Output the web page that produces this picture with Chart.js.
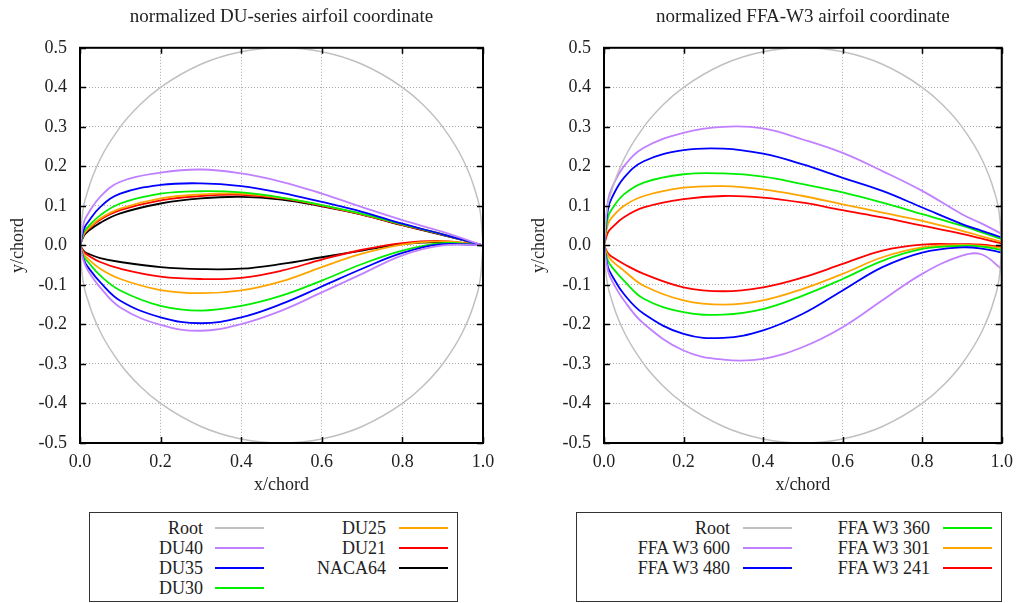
<!DOCTYPE html>
<html>
<head>
<meta charset="utf-8">
<script src="https://cdn.jsdelivr.net/npm/chart.js@4.4.1/dist/chart.umd.min.js"></script>
<style>
  body { margin: 0; background: #fff; font-family: "Liberation Serif", serif; }
  #page { position: relative; width: 1021px; height: 603px; overflow: hidden; }
  .plot { position: absolute; top: 0; height: 500px; }
  .legend { position: absolute; top: 512px; height: 88px; border: 1px solid #333; background: #fff; }
  .lbl { position: absolute; height: 20px; line-height: 20px; font-size: 18px; color: #222; text-align: right; white-space: nowrap; }
  .swatch { position: absolute; height: 2px; }
</style>
</head>
<body>
<div id="page">
  <div class="plot" style="left:0;width:510px"><canvas id="du"></canvas></div>
  <div class="plot" style="left:510px;width:511px"><canvas id="ffa"></canvas></div>
  <div class="legend" id="duLegend" style="left:89px;width:367px"></div>
  <div class="legend" id="ffaLegend" style="left:576px;width:424px"></div>
</div>
<script>
// root cylinder (circle of diameter 1 chord)
const ROOT_X = [0, 0.005, 0.02, 0.05, 0.1, 0.15, 0.2, 0.3, 0.4, 0.5, 0.6, 0.7, 0.8, 0.85, 0.9, 0.95, 0.98, 0.995, 1];
const ROOT_UP = [0, 0.0705, 0.14, 0.2179, 0.3, 0.3571, 0.4, 0.4583, 0.4899, 0.5, 0.4899, 0.4583, 0.4, 0.3571, 0.3, 0.2179, 0.14, 0.0705, 0];
const ROOT_LO = [0, -0.0705, -0.14, -0.2179, -0.3, -0.3571, -0.4, -0.4583, -0.4899, -0.5, -0.4899, -0.4583, -0.4, -0.3571, -0.3, -0.2179, -0.14, -0.0705, 0];

// DU series, x/chord stations
const DU_X = [0, 0.01, 0.02, 0.05, 0.1, 0.2, 0.3, 0.4, 0.5, 0.6, 0.7, 0.8, 0.9, 1.0];
const DU40_UP = [0, 0.06, 0.08, 0.123, 0.161, 0.184, 0.192, 0.182, 0.161, 0.131, 0.097, 0.064, 0.034, 0];
const DU40_LO = [0, -0.042, -0.064, -0.106, -0.157, -0.201, -0.216, -0.199, -0.165, -0.119, -0.072, -0.025, 0.0, 0];
const DU35_UP = [0, 0.042, 0.059, 0.097, 0.131, 0.153, 0.157, 0.15, 0.133, 0.11, 0.085, 0.055, 0.028, 0];
const DU35_LO = [0, -0.038, -0.055, -0.093, -0.14, -0.182, -0.197, -0.182, -0.148, -0.104, -0.059, -0.019, 0.003, 0];
const DU30_UP = [0, 0.034, 0.047, 0.076, 0.106, 0.131, 0.137, 0.134, 0.121, 0.102, 0.08, 0.053, 0.028, 0];
const DU30_LO = [0, -0.03, -0.042, -0.076, -0.114, -0.153, -0.165, -0.153, -0.127, -0.089, -0.047, -0.013, 0.006, 0];
const DU25_UP = [0, 0.03, 0.042, 0.068, 0.093, 0.119, 0.129, 0.131, 0.12, 0.102, 0.079, 0.053, 0.028, 0];
const DU25_LO = [0, -0.023, -0.034, -0.059, -0.085, -0.113, -0.121, -0.114, -0.091, -0.055, -0.021, 0.002, 0.01, 0];
const DU21_UP = [0, 0.028, 0.04, 0.065, 0.089, 0.114, 0.125, 0.128, 0.119, 0.1, 0.078, 0.051, 0.027, 0];
const DU21_LO = [0, -0.017, -0.025, -0.042, -0.059, -0.079, -0.085, -0.082, -0.064, -0.036, -0.011, 0.006, 0.011, 0];
const NACA64_UP = [0, 0.025, 0.036, 0.057, 0.081, 0.106, 0.119, 0.123, 0.116, 0.099, 0.078, 0.051, 0.026, 0];
const NACA64_LO = [0, -0.015, -0.021, -0.032, -0.042, -0.055, -0.06, -0.059, -0.047, -0.03, -0.013, 0.003, 0.008, 0];

// FFA-W3 series
const FFA_X = [0, 0.01, 0.02, 0.05, 0.1, 0.2, 0.3, 0.4, 0.5, 0.6, 0.7, 0.8, 0.9, 0.95, 1.0];
const W600_UP = [0, 0.113, 0.146, 0.2, 0.247, 0.285, 0.3, 0.296, 0.268, 0.234, 0.188, 0.138, 0.079, 0.055, 0.029];
const W600_LO = [0, -0.064, -0.089, -0.139, -0.198, -0.266, -0.289, -0.287, -0.257, -0.207, -0.139, -0.072, -0.026, -0.023, -0.06];
const W480_UP = [0, 0.092, 0.121, 0.171, 0.213, 0.241, 0.245, 0.232, 0.205, 0.171, 0.138, 0.096, 0.054, 0.037, 0.02];
const W480_LO = [0, -0.055, -0.076, -0.123, -0.173, -0.224, -0.234, -0.215, -0.173, -0.114, -0.055, -0.018, -0.005, -0.008, -0.018];
const W360_UP = [0, 0.071, 0.092, 0.129, 0.159, 0.18, 0.182, 0.174, 0.155, 0.134, 0.108, 0.079, 0.05, 0.033, 0.016];
const W360_LO = [0, -0.039, -0.055, -0.089, -0.135, -0.169, -0.175, -0.161, -0.127, -0.085, -0.039, -0.009, -0.001, -0.003, -0.012];
const W301_UP = [0, 0.054, 0.071, 0.1, 0.125, 0.146, 0.15, 0.142, 0.125, 0.104, 0.083, 0.062, 0.037, 0.023, 0.009];
const W301_LO = [0, -0.026, -0.039, -0.064, -0.102, -0.139, -0.15, -0.139, -0.11, -0.072, -0.03, -0.005, 0.001, -0.001, -0.007];
const W241_UP = [0, 0.033, 0.045, 0.071, 0.096, 0.117, 0.125, 0.121, 0.108, 0.089, 0.071, 0.05, 0.029, 0.017, 0.005];
const W241_LO = [0, -0.02, -0.029, -0.047, -0.072, -0.106, -0.116, -0.106, -0.081, -0.047, -0.013, 0.002, 0.003, 0.002, -0.005];

const DU_NAMES = ['Root', 'DU40', 'DU35', 'DU30', 'DU25', 'DU21', 'NACA64'];
const FFA_NAMES = ['Root', 'FFA W3 600', 'FFA W3 480', 'FFA W3 360', 'FFA W3 301', 'FFA W3 241'];
const DU_COLORS = ['#c0c0c0', '#c080ff', '#0000ff', '#00ee00', '#ffa500', '#ff0000', '#000000'];
const FFA_COLORS = ['#c0c0c0', '#c080ff', '#0000ff', '#00ee00', '#ffa500', '#ff0000'];

const Y_TICKS = [-0.5, -0.4, -0.3, -0.2, -0.1, 0, 0.1, 0.2, 0.3, 0.4, 0.5];
const X_TICKS = [0, 0.2, 0.4, 0.6, 0.8, 1.0];

const SERIF = '"Liberation Serif", "Times New Roman", serif';
Chart.defaults.font.family = SERIF;
Chart.defaults.font.size = 18;
Chart.defaults.color = '#222';

const pts = (xs, ys) => xs.map((x, i) => ({ x, y: ys[i] }));
const fmt = v => (Math.abs(v) < 1e-9 ? '0.0' : Number(v).toFixed(1));

// gnuplot style frame with inward ticks on all four sides
const frame = {
  id: 'frame',
  afterDatasetsDraw(chart) {
    const { ctx, chartArea: a, scales: { x, y } } = chart;
    ctx.save();
    ctx.strokeStyle = '#000';
    ctx.lineWidth = 1.5;
    ctx.beginPath();
    X_TICKS.forEach(v => {
      const px = Math.round(x.getPixelForValue(v)) + 0.5;
      ctx.moveTo(px, a.bottom); ctx.lineTo(px, a.bottom - 6);
      ctx.moveTo(px, a.top); ctx.lineTo(px, a.top + 6);
    });
    Y_TICKS.forEach(v => {
      const py = Math.round(y.getPixelForValue(v)) + 0.5;
      ctx.moveTo(a.left, py); ctx.lineTo(a.left + 6, py);
      ctx.moveTo(a.right, py); ctx.lineTo(a.right - 6, py);
    });
    ctx.stroke();
    ctx.lineWidth = 2;
    ctx.strokeRect(a.left, a.top, a.right - a.left, a.bottom - a.top);
    ctx.restore();
  },
};

const makeChart = (id, title, datasets, yWidth, yTitlePad, rightPad) => new Chart(document.getElementById(id), {
  type: 'scatter',
  data: { datasets },
  options: {
    responsive: true,
    maintainAspectRatio: false,
    animation: false,
    events: [],
    layout: { padding: { left: 0, right: rightPad, top: 0, bottom: 0 } },
    plugins: {
      legend: { display: false },
      tooltip: { enabled: false },
      title: {
        display: true, text: title, color: '#222', fullSize: false,
        font: { family: SERIF, size: 19, weight: 'normal' },
        padding: { top: 6, bottom: 19 },
      },
    },
    scales: {
      x: {
        type: 'linear', min: 0, max: 1,
        afterFit: s => { s.height = 57; },
        afterBuildTicks: s => { s.ticks = X_TICKS.map(v => ({ value: v })); },
        ticks: { padding: 8, callback: fmt, autoSkip: false, maxRotation: 0, font: { family: SERIF, size: 18 } },
        grid: { color: '#a8a8a8', drawTicks: false },
        border: { display: false, dash: [1, 2] },
        title: { display: true, text: 'x/chord', font: { family: SERIF, size: 18 }, padding: { top: 0, bottom: 4 } },
      },
      y: {
        type: 'linear', min: -0.5, max: 0.5,
        afterFit: s => { s.width = yWidth; },
        afterBuildTicks: s => { s.ticks = Y_TICKS.map(v => ({ value: v })); },
        ticks: { padding: 13, callback: fmt, autoSkip: false, font: { family: SERIF, size: 18 } },
        grid: { color: '#a8a8a8', drawTicks: false },
        border: { display: false, dash: [1, 2] },
        title: { display: true, text: 'y/chord', font: { family: SERIF, size: 18 }, padding: { top: yTitlePad, bottom: 0 } },
      },
    },
  },
  plugins: [frame],
});

// each airfoil = upper + lower surface curve; the root circle uses monotone
// interpolation, the airfoils a plain spline
const surfaces = (names, colors, xs, ups, los) => names.flatMap((name, i) => {
  const base = {
    label: name, showLine: true, borderColor: colors[i], backgroundColor: colors[i],
    borderWidth: i === 0 ? 1.5 : 1.8, pointRadius: 0, fill: false,
  };
  if (i === 0) base.cubicInterpolationMode = 'monotone';
  else base.tension = 0.4;
  return [
    { ...base, data: pts(xs[i], ups[i]) },
    { ...base, data: pts(xs[i], los[i]) },
  ];
});

makeChart('du', 'normalized DU-series airfoil coordinate',
  surfaces(DU_NAMES, DU_COLORS,
    [ROOT_X, DU_X, DU_X, DU_X, DU_X, DU_X, DU_X],
    [ROOT_UP, DU40_UP, DU35_UP, DU30_UP, DU25_UP, DU21_UP, NACA64_UP],
    [ROOT_LO, DU40_LO, DU35_LO, DU30_LO, DU25_LO, DU21_LO, NACA64_LO]),
  80, 7, 27);
makeChart('ffa', 'normalized FFA-W3 airfoil coordinate',
  surfaces(FFA_NAMES, FFA_COLORS,
    [ROOT_X, FFA_X, FFA_X, FFA_X, FFA_X, FFA_X],
    [ROOT_UP, W600_UP, W480_UP, W360_UP, W301_UP, W241_UP],
    [ROOT_LO, W600_LO, W480_LO, W360_LO, W301_LO, W241_LO]),
  94, 18, 14);

// legend boxes: two columns, label right-aligned followed by a line sample
const buildLegend = (elId, names, colors, textRight, lineLeft) => {
  const el = document.getElementById(elId);
  const rows = Math.ceil(names.length / 2);
  names.forEach((name, i) => {
    const col = Math.floor(i / rows);
    const row = i % rows;
    const cy = 15 + row * 20;
    const lbl = document.createElement('div');
    lbl.className = 'lbl';
    lbl.textContent = name;
    lbl.style.right = (el.clientWidth - textRight[col]) + 'px';
    lbl.style.top = (cy - 10) + 'px';
    el.appendChild(lbl);
    const sw = document.createElement('div');
    sw.className = 'swatch';
    sw.style.left = lineLeft[col] + 'px';
    sw.style.width = '49px';
    sw.style.top = (cy - 1) + 'px';
    sw.style.background = colors[i];
    el.appendChild(sw);
  });
};
buildLegend('duLegend', DU_NAMES, DU_COLORS, [113, 296], [125, 309]);
buildLegend('ffaLegend', FFA_NAMES, FFA_COLORS, [153, 353], [166, 366]);
</script>
</body>
</html>
